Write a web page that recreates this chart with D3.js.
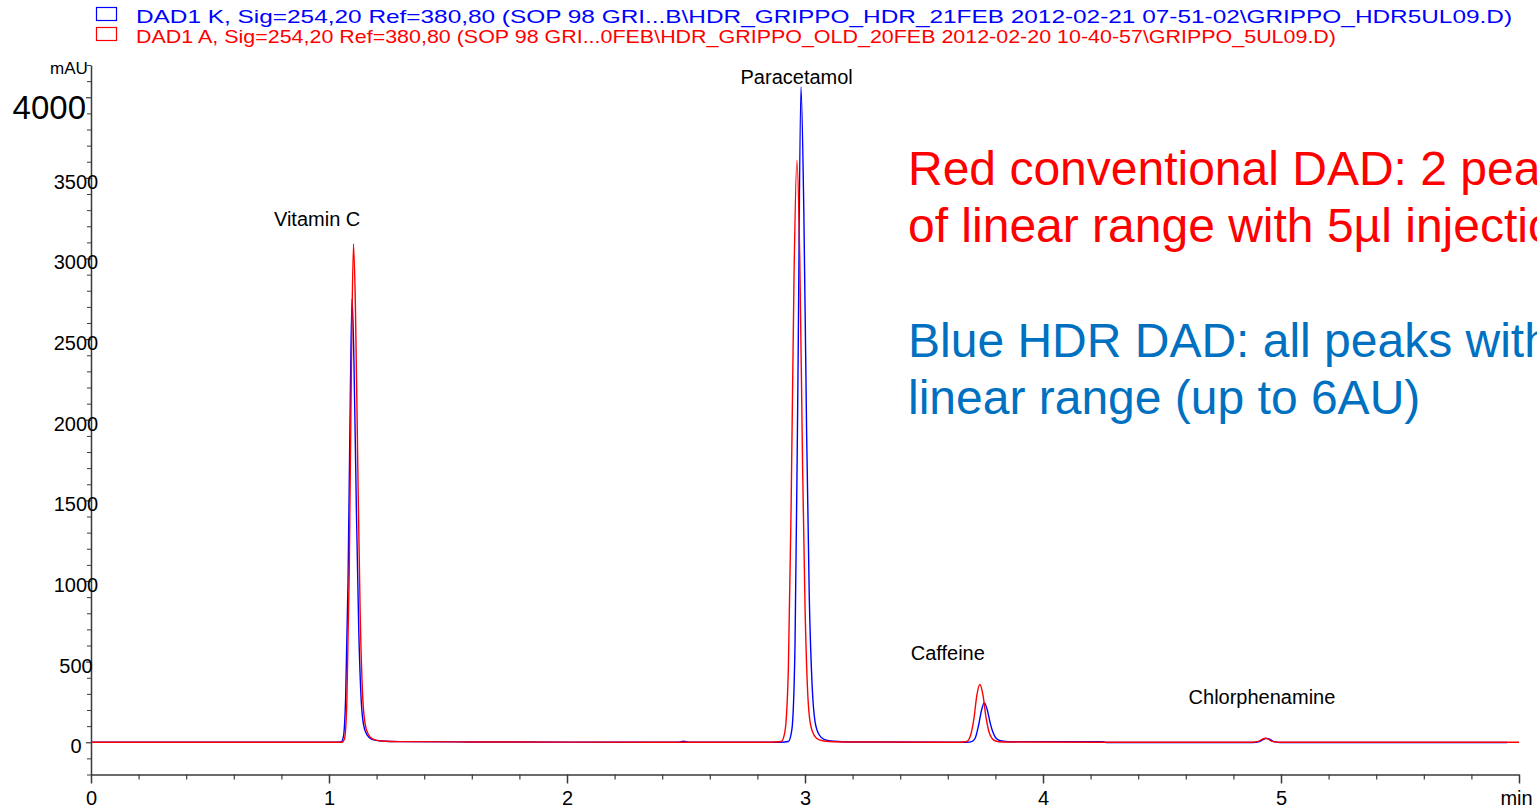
<!DOCTYPE html>
<html>
<head>
<meta charset="utf-8">
<script src="https://cdn.jsdelivr.net/npm/d3@7"></script>
<style>
  html, body { margin: 0; padding: 0; background: #fff; overflow: hidden; }
  svg { display: block; font-family: "Liberation Sans", Arial, sans-serif; }
</style>
</head>
<body>
<svg id="chart" width="1537" height="812"></svg>
<script>
// ---------- data ----------
const legendLabels = [
  "DAD1 K, Sig=254,20 Ref=380,80 (SOP 98 GRI...B\\HDR_GRIPPO_HDR_21FEB 2012-02-21 07-51-02\\GRIPPO_HDR5UL09.D)",
  "DAD1 A, Sig=254,20 Ref=380,80 (SOP 98 GRI...0FEB\\HDR_GRIPPO_OLD_20FEB 2012-02-20 10-40-57\\GRIPPO_5UL09.D)"
];
const seriesColors = ["#0000ff", "#ff0000"];

const xTickValues = [0, 1, 2, 3, 4, 5, 6];
const xTickLabels = ["0", "1", "2", "3", "4", "5", "min"];
const yTickValues = [0, 500, 1000, 1500, 2000, 2500, 3000, 3500, 4000];

// HDR DAD (blue): [time (min), absorbance (mAU)]
const blueTrace = [
  [0.00, 0], [0.50, 0], [1.00, 0], [1.050, 2], [1.060, 30], [1.070, 280], [1.080, 1000],
  [1.090, 2200], [1.097, 2750], [1.105, 2350], [1.115, 1450], [1.125, 700], [1.135, 270],
  [1.145, 110], [1.160, 45], [1.180, 18], [1.220, 8], [1.300, 4], [1.60, 2], [2.00, 1],
  [2.470, 0], [2.490, 6], [2.510, 0], [2.90, 0], [2.930, 5], [2.945, 80], [2.958, 600],
  [2.970, 2200], [2.983, 4065], [2.995, 3300], [3.007, 1900], [3.018, 900], [3.030, 350],
  [3.042, 130], [3.060, 45], [3.080, 18], [3.120, 6], [3.200, 2], [3.60, 0], [3.680, 0],
  [3.700, 4], [3.715, 25], [3.730, 110], [3.742, 200], [3.753, 246], [3.766, 200],
  [3.778, 120], [3.790, 60], [3.805, 22], [3.825, 8], [3.860, 3], [3.900, 4], [4.250, 4],
  [4.270, -2], [4.880, -2], [4.910, 4], [4.925, 17], [4.940, 24], [4.955, 17], [4.970, 4],
  [5.000, -2], [5.950, -2]
];

// Conventional DAD (red): [time (min), absorbance (mAU)]
const redTrace = [
  [0.00, 0], [0.50, 0], [1.00, 0], [1.055, 0], [1.065, 20], [1.075, 250], [1.085, 1050],
  [1.095, 2450], [1.103, 3090], [1.111, 2700], [1.121, 1700], [1.131, 800], [1.141, 300],
  [1.151, 120], [1.165, 50], [1.185, 20], [1.220, 8], [1.300, 4], [1.60, 2], [2.00, 1],
  [2.85, 0], [2.900, 5], [2.915, 60], [2.930, 450], [2.942, 1500], [2.954, 2900],
  [2.966, 3610], [2.978, 3000], [2.990, 1700], [3.000, 850], [3.010, 350], [3.022, 120],
  [3.040, 40], [3.060, 15], [3.100, 5], [3.200, 2], [3.60, 0], [3.650, 0], [3.680, 5],
  [3.695, 40], [3.710, 150], [3.722, 290], [3.735, 358], [3.748, 290], [3.760, 160],
  [3.772, 70], [3.785, 25], [3.800, 8], [3.830, 2], [4.250, 0], [4.880, 0], [4.905, 5],
  [4.920, 18], [4.934, 25], [4.948, 18], [4.962, 5], [4.990, 0], [6.000, 0]
];

const peakNames = ["Vitamin C", "Paracetamol", "Caffeine", "Chlorphenamine"];
const peakLabelTimes = [0.95, 2.965, 3.6, 4.92];
const peakLabelMAU = [3200, 4085, 510, 235];

const noteRed = ["Red conventional DAD: 2 peaks out", "of linear range with 5µl injection"];
const noteBlue = ["Blue HDR DAD: all peaks within", "linear range (up to 6AU)"];

// ---------- drawing ----------
const svg = d3.select("#chart");
const x = d3.scaleLinear().domain([0, 6]).range([91, 1519]);
const y = d3.scaleLinear().domain([-200, 4200]).range([774.5, 65]);
const axisColor = "#3a3a3a";

// legend
legendLabels.forEach((txt, i) => {
  const top = 7 + i * 20;
  svg.append("rect").attr("x", 96.5).attr("y", top + 0.5).attr("width", 20).attr("height", 13)
    .attr("fill", "none").attr("stroke", seriesColors[i]).attr("stroke-width", 1.2);
  svg.append("text").attr("x", 136).attr("y", top + 16)
    .attr("font-size", 19).attr("fill", seriesColors[i])
    .attr("textLength", i === 0 ? 1376 : 1200).attr("lengthAdjust", "spacingAndGlyphs")
    .text(txt);
});

// x axis
const xMinor = d3.range(0, 30).map(i => i * 0.2).filter(v => Math.abs(v - Math.round(v)) > 1e-6);
svg.append("g").attr("transform", "translate(0,774.5)")
  .call(d3.axisBottom(x).tickValues(xMinor).tickSize(5).tickFormat(""))
  .call(g => g.select(".domain").remove())
  .call(g => g.selectAll("line").attr("stroke", axisColor).attr("stroke-width", 1.2));
const gx = svg.append("g").attr("transform", "translate(0,774.5)")
  .call(d3.axisBottom(x).tickValues(xTickValues).tickSize(9).tickPadding(7)
    .tickFormat((d, i) => xTickLabels[i]).tickSizeOuter(0));
gx.select(".domain").attr("stroke", axisColor).attr("stroke-width", 1.5);
gx.selectAll("line").attr("stroke", axisColor).attr("stroke-width", 1.5);
gx.selectAll("text").attr("font-size", 20).attr("fill", "#000")
  .attr("font-family", "Liberation Sans, Arial, sans-serif");
gx.selectAll("text").filter((d, i) => xTickLabels[i] === "min").attr("dx", -3);

// y axis
const yMinor = d3.range(-200, 4201, 100).filter(v => v % 500 !== 0);
svg.append("g").attr("transform", "translate(91,0)")
  .call(d3.axisLeft(y).tickValues(yMinor).tickSize(4).tickFormat(""))
  .call(g => g.select(".domain").remove())
  .call(g => g.selectAll("line").attr("stroke", axisColor).attr("stroke-width", 1));
const gy = svg.append("g").attr("transform", "translate(91,0)")
  .call(d3.axisLeft(y).tickValues(yTickValues).tickSize(5).tickFormat(d3.format("d")).tickSizeOuter(0));
gy.select(".domain").attr("stroke", axisColor).attr("stroke-width", 1.5);
gy.selectAll("line").attr("stroke", axisColor).attr("stroke-width", 1.2);
gy.selectAll("text")
  .attr("font-size", d => d === 4000 ? 33 : 20)
  .attr("fill", "#000")
  .attr("font-family", "Liberation Sans, Arial, sans-serif")
  .attr("text-anchor", d => d === 4000 ? "end" : "middle")
  .attr("x", d => d === 4000 ? -5 : -15)
  .attr("dy", d => d === 4000 ? "0.72em" : "0.52em")
  .attr("y", d => d === 4000 ? -3 : 0);

svg.append("text").attr("x", 69).attr("y", 74).attr("text-anchor", "middle")
  .attr("font-size", 17).attr("fill", "#000").text("mAU");

// traces
const line = d3.line().x(d => x(d[0])).y(d => y(d[1])).curve(d3.curveMonotoneX);
[blueTrace, redTrace].forEach((tr, i) => {
  svg.append("path").datum(tr).attr("d", line)
    .attr("fill", "none").attr("stroke", seriesColors[i]).attr("stroke-width", 1.4)
    .attr("stroke-linejoin", "round");
});

// peak labels
peakNames.forEach((n, i) => {
  svg.append("text").attr("x", x(peakLabelTimes[i])).attr("y", y(peakLabelMAU[i]))
    .attr("text-anchor", "middle").attr("font-size", 20).attr("fill", "#000").text(n);
});

// annotations (the reference lets these run past the right edge)
noteRed.forEach((t, i) => {
  svg.append("text").attr("x", 908).attr("y", 185 + i * 57).attr("font-size", 48)
    .attr("fill", "#ff0000").text(t);
});
noteBlue.forEach((t, i) => {
  svg.append("text").attr("x", 908).attr("y", 357 + i * 57).attr("font-size", 48)
    .attr("fill", "#0070c0").text(t);
});
</script>
</body>
</html>
